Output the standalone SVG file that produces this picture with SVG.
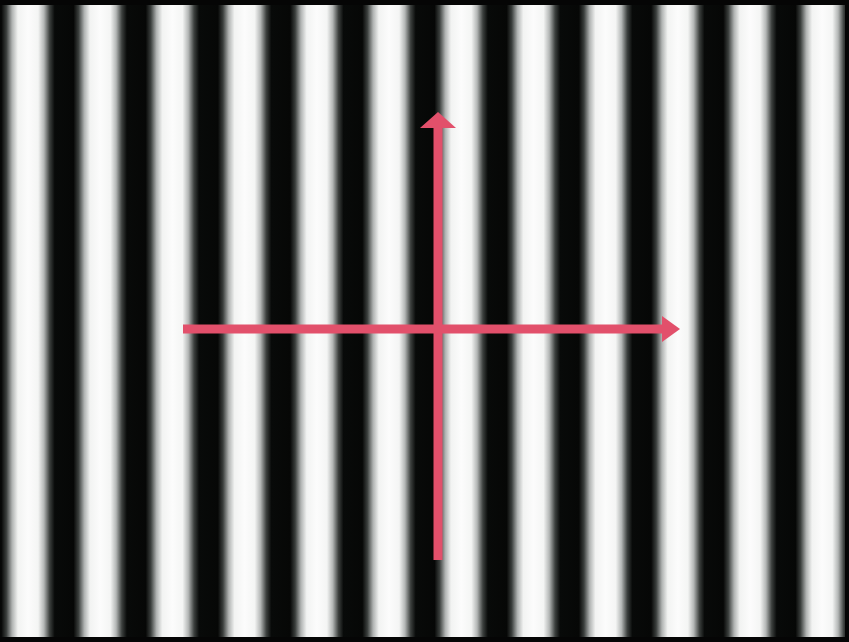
<svg xmlns="http://www.w3.org/2000/svg" width="849" height="642" viewBox="0 0 849 642">
  <defs>
    <linearGradient id="grating" gradientUnits="userSpaceOnUse" x1="28" y1="0" x2="100.2" y2="0" spreadMethod="repeat">
      <stop offset="0" stop-color="#fcfcfc"/>
      <stop offset="0.14" stop-color="#f4f5f4"/>
      <stop offset="0.22" stop-color="#b4b7b6"/>
      <stop offset="0.3" stop-color="#3c403e"/>
      <stop offset="0.37" stop-color="#080a09"/>
      <stop offset="0.63" stop-color="#060706"/>
      <stop offset="0.7" stop-color="#3a3e3c"/>
      <stop offset="0.78" stop-color="#b0b3b2"/>
      <stop offset="0.86" stop-color="#f2f3f2"/>
      <stop offset="1" stop-color="#fcfcfc"/>
    </linearGradient>
    <style>
      .arrow { stroke: #e2506b; stroke-width: 9; fill: none; }
      .head { fill: #e2506b; }
    </style>
  </defs>
  <rect x="0" y="0" width="849" height="642" fill="url(#grating)"/>
  <rect x="0" y="0" width="849" height="5" fill="#050505"/>
  <rect x="0" y="637" width="849" height="5" fill="#050505"/>
  <rect x="845" y="0" width="4" height="642" fill="#050505"/>
  <g id="arrows">
    <g id="vertical-arrow">
      <line class="arrow" x1="438" y1="560" x2="438" y2="125"/>
      <polygon class="head" points="438,112 456,128 420,128"/>
    </g>
    <g id="horizontal-arrow">
      <line class="arrow" x1="183" y1="329" x2="664" y2="329"/>
      <polygon class="head" points="680,329 662,316 662,342"/>
    </g>
  </g>
</svg>
